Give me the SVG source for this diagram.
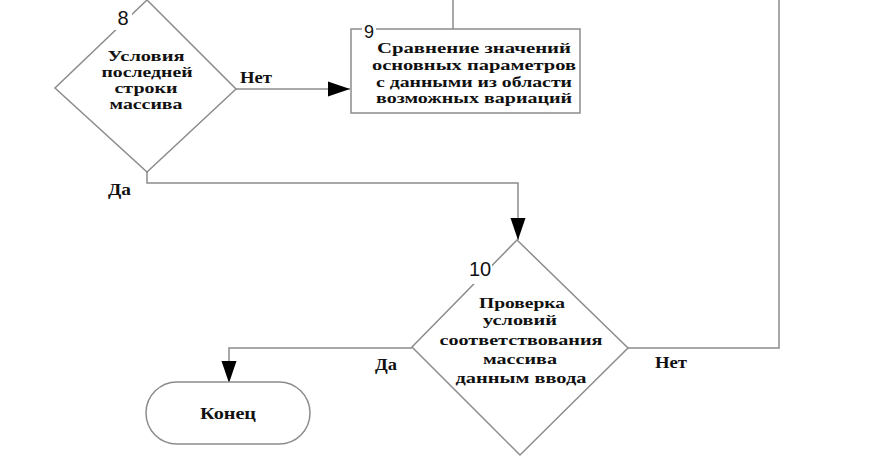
<svg xmlns="http://www.w3.org/2000/svg" width="891" height="471" viewBox="0 0 891 471">
<defs>
<marker id="arr" markerUnits="userSpaceOnUse" markerWidth="24" markerHeight="16" viewBox="0 0 22 16" refX="22" refY="8" orient="auto">
<path d="M0,0.5 L22,8 L0,15.5 Z" fill="#000"/>
</marker>
<style>
.shape{fill:#fff;stroke:#8c8c8c;stroke-width:1.5}
.conn{fill:none;stroke:#8c8c8c;stroke-width:1.5}
.t{font-family:"Liberation Serif","Times New Roman",serif;font-weight:bold;font-size:14px;fill:#111;text-anchor:middle}
.t15{font-size:15px}
.lbl{font-family:"Liberation Serif","Times New Roman",serif;font-weight:bold;font-size:17px;fill:#111}
.num{font-family:"Liberation Sans",Arial,sans-serif;font-size:20px;fill:#111}
.gap{fill:#fff}
</style>
</defs>
<rect width="891" height="471" fill="#fff"/>
<g id="connectors">
<path class="conn" d="M236,89 H350" marker-end="url(#arr)"/>
<path class="conn" d="M147,172 V183 H518 V240" marker-end="url(#arr)"/>
<path class="conn" d="M628,348 H779 V-5 H453 V29"/>
<path class="conn" d="M412,348 H229 V383" marker-end="url(#arr)"/>
</g>
<g id="node8">
<polygon class="shape" points="147,0 236,89 147,172 55,88"/>
<rect class="gap" x="114" y="10" width="18" height="20"/>
<text class="num" x="123" y="25" text-anchor="middle">8</text>
<text class="t" x="146" y="61" textLength="77" lengthAdjust="spacingAndGlyphs">Условия</text>
<text class="t" x="147" y="77" textLength="91" lengthAdjust="spacingAndGlyphs">последней</text>
<text class="t" x="146" y="93" textLength="63" lengthAdjust="spacingAndGlyphs">строки</text>
<text class="t" x="146" y="109" textLength="73" lengthAdjust="spacingAndGlyphs">массива</text>
</g>
<g id="node9">
<rect class="shape" x="351" y="29" width="229" height="84"/>
<rect class="gap" x="362" y="22" width="14" height="14"/>
<text class="num" x="369" y="38" text-anchor="middle" style="font-size:18px">9</text>
<text class="t" x="474" y="53" textLength="194" lengthAdjust="spacingAndGlyphs">Сравнение значений</text>
<text class="t" x="474" y="70" textLength="204" lengthAdjust="spacingAndGlyphs">основных параметров</text>
<text class="t" x="474" y="87" textLength="196" lengthAdjust="spacingAndGlyphs">с данными из области</text>
<text class="t" x="474" y="103" textLength="196" lengthAdjust="spacingAndGlyphs">возможных вариаций</text>
</g>
<g id="node10">
<polygon class="shape" points="517,240 628,348 520,455 412,347"/>
<rect class="gap" x="468" y="262" width="24" height="22"/>
<text class="num" x="480" y="276" text-anchor="middle">10</text>
<text class="t t15" x="522" y="308" textLength="86" lengthAdjust="spacingAndGlyphs">Проверка</text>
<text class="t t15" x="520" y="325" textLength="74" lengthAdjust="spacingAndGlyphs">условий</text>
<text class="t t15" x="521" y="345" textLength="163" lengthAdjust="spacingAndGlyphs">соответствования</text>
<text class="t t15" x="520" y="364" textLength="74" lengthAdjust="spacingAndGlyphs">массива</text>
<text class="t t15" x="521" y="383" textLength="131" lengthAdjust="spacingAndGlyphs">данным ввода</text>
</g>
<g id="end">
<rect class="shape" x="146" y="382" width="164" height="62" rx="31" ry="31"/>
<text class="t" style="font-size:17px" x="228" y="419" textLength="56" lengthAdjust="spacingAndGlyphs">Конец</text>
</g>
<g id="labels">
<text class="lbl" x="240" y="83" textLength="32" lengthAdjust="spacingAndGlyphs">Нет</text>
<text class="lbl" x="108" y="195" textLength="23" lengthAdjust="spacingAndGlyphs">Да</text>
<text class="lbl" x="375" y="370" textLength="22" lengthAdjust="spacingAndGlyphs">Да</text>
<text class="lbl" x="655" y="368" textLength="32" lengthAdjust="spacingAndGlyphs">Нет</text>
</g>
</svg>
